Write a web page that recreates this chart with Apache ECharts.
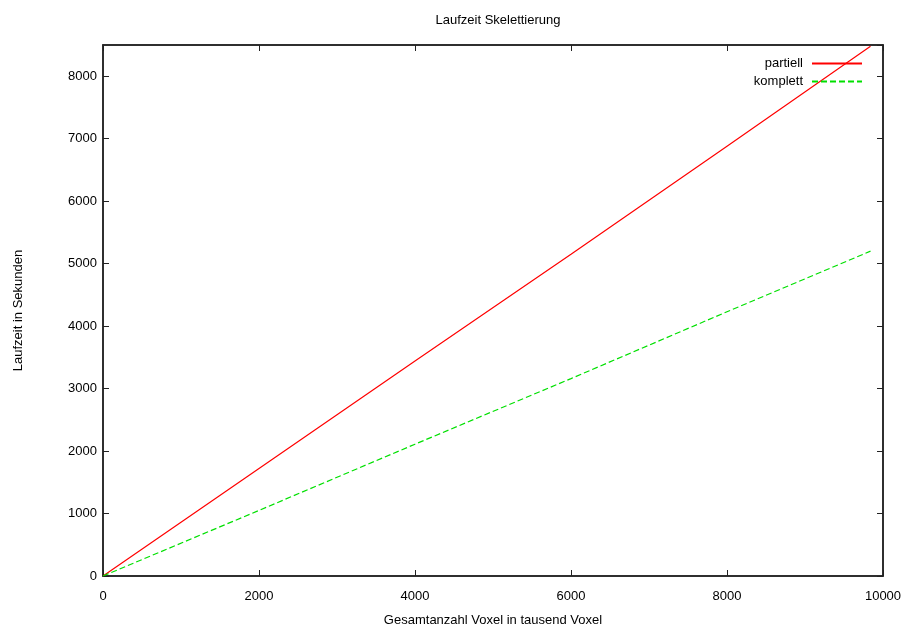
<!DOCTYPE html>
<html>
<head>
<meta charset="utf-8">
<script src="https://cdn.jsdelivr.net/npm/echarts@6/dist/echarts.min.js"></script>
<style>
  html, body { margin: 0; padding: 0; background: #fff; }
  #chart { width: 912px; height: 632px; }
</style>
</head>
<body>
<div id="chart"></div>
<script>
// Gesamtanzahl Voxel (in tausend) und Laufzeit in Sekunden
var voxel = [0, 2000, 4000, 6000, 8000, 9840];
var partiell = [0, 1720, 3440, 5150, 6880, 8480];
var komplett = [0, 1050, 2110, 3160, 4230, 5200];

var seriesNames = ['partiell', 'komplett'];

function pairs(xs, ys) {
    var out = [];
    for (var i = 0; i < xs.length; i++) {
        out.push([xs[i], ys[i]]);
    }
    return out;
}

var font = 'Liberation Sans, Arial, sans-serif';
var axisColor = '#222';
var plain = function (v) { return String(v); };

var dom = document.getElementById('chart');
var myChart = echarts.init(dom);

var option = {
    animation: false,
    backgroundColor: '#fff',
    title: {
        text: 'Laufzeit Skelettierung',
        left: 493,
        top: 9,
        textAlign: 'center',
        textStyle: { fontFamily: font, fontSize: 13, fontWeight: 'normal', color: '#000' }
    },
    grid: {
        left: 103, right: 29, top: 45, bottom: 54,
        show: true, borderColor: axisColor, borderWidth: 1.5, backgroundColor: 'transparent'
    },
    legend: {
        orient: 'vertical',
        right: 44,
        top: 52,
        align: 'right',
        itemWidth: 50,
        itemHeight: 10,
        itemGap: 5,
        itemStyle: { opacity: 0 },
        data: seriesNames,
        textStyle: { fontFamily: font, fontSize: 13, color: '#000', padding: [0, 4, 0, 0] }
    },
    xAxis: [
        {
            type: 'value',
            min: 0,
            max: 10000,
            interval: 2000,
            name: 'Gesamtanzahl Voxel in tausend Voxel',
            nameLocation: 'middle',
            nameGap: 38,
            nameTextStyle: { fontFamily: font, fontSize: 13, color: '#000' },
            axisLine: { onZero: false, lineStyle: { color: axisColor, width: 1.5 } },
            axisTick: { inside: true, length: 6, lineStyle: { color: axisColor } },
            axisLabel: { fontFamily: font, fontSize: 13, color: '#000', margin: 14, formatter: plain },
            splitLine: { show: false }
        },
        {
            type: 'value',
            position: 'top',
            min: 0,
            max: 10000,
            interval: 2000,
            axisLine: { show: true, onZero: false, lineStyle: { color: axisColor, width: 1.5 } },
            axisTick: { show: true, inside: true, length: 6, lineStyle: { color: axisColor } },
            axisLabel: { show: false },
            splitLine: { show: false }
        }
    ],
    yAxis: [
        {
            type: 'value',
            min: 0,
            max: 8500,
            interval: 1000,
            name: 'Laufzeit in Sekunden',
            nameLocation: 'middle',
            nameGap: 78,
            nameTextStyle: { fontFamily: font, fontSize: 13, color: '#000' },
            axisLine: { show: true, onZero: false, lineStyle: { color: axisColor, width: 1.5 } },
            axisTick: { show: true, inside: true, length: 6, lineStyle: { color: axisColor } },
            axisLabel: { fontFamily: font, fontSize: 13, color: '#000', margin: 6, showMaxLabel: false, formatter: plain },
            splitLine: { show: false }
        },
        {
            type: 'value',
            position: 'right',
            min: 0,
            max: 8500,
            interval: 1000,
            axisLine: { show: true, onZero: false, lineStyle: { color: axisColor, width: 1.5 } },
            axisTick: { show: true, inside: true, length: 6, lineStyle: { color: axisColor } },
            axisLabel: { show: false },
            splitLine: { show: false }
        }
    ],
    series: [
        {
            name: seriesNames[0],
            type: 'line',
            symbol: 'none',
            color: '#ff0000',
            lineStyle: { color: '#ff0000', width: 1.2 },
            data: pairs(voxel, partiell)
        },
        {
            name: seriesNames[1],
            type: 'line',
            symbol: 'none',
            color: '#00e000',
            lineStyle: { color: '#00e000', width: 1.2, type: [6, 3] },
            data: pairs(voxel, komplett)
        },
        {
            // leere Serie, damit die Spiegelachsen oben/rechts gezeichnet werden
            name: 'mirror',
            type: 'line',
            xAxisIndex: 1,
            yAxisIndex: 1,
            symbol: 'none',
            silent: true,
            data: []
        }
    ]
};

if (option && typeof option === "object") {
    myChart.setOption(option, true);
    window.onresize = myChart.resize;
}
</script>
</body>
</html>
